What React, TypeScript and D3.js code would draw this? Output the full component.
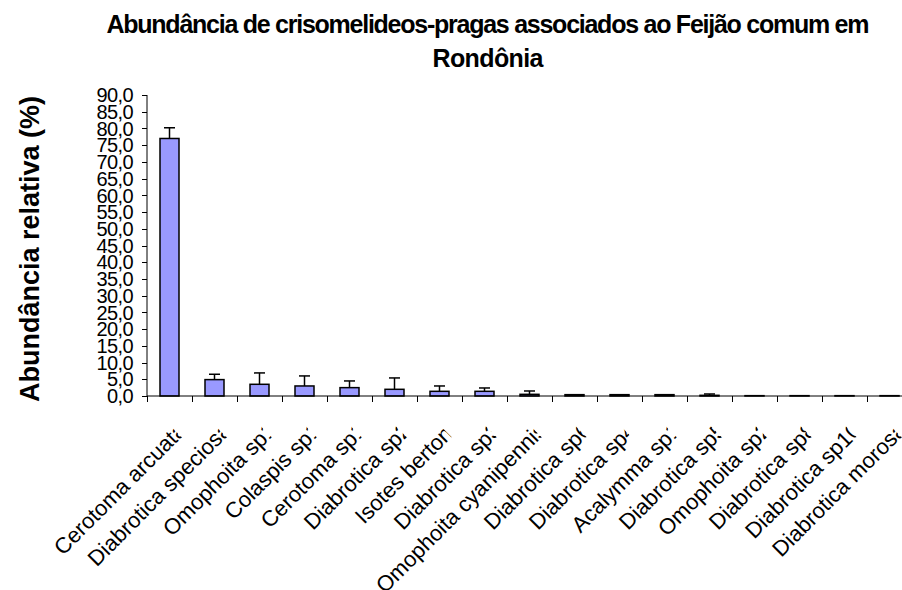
import React from "react";
import * as d3 from "d3";

// species (x categories)
const species = [
  "Cerotoma arcuata",
  "Diabrotica speciosa",
  "Omophoita sp1",
  "Colaspis sp1",
  "Cerotoma sp1",
  "Diabrotica sp2",
  "Isotes bertoni",
  "Diabrotica sp3",
  "Omophoita cyanipennis",
  "Diabrotica sp6",
  "Diabrotica sp4",
  "Acalymma sp1",
  "Diabrotica sp5",
  "Omophoita sp2",
  "Diabrotica sp8",
  "Diabrotica sp10",
  "Diabrotica morosa",
];

// relative abundance (%) and upper error
const abundance = [77.0, 4.9, 3.5, 3.0, 2.5, 2.0, 1.4, 1.4, 0.5, 0.4, 0.4, 0.4, 0.2, 0.1, 0.1, 0.1, 0.1];
const errorUp = [3.2, 1.6, 3.4, 3.0, 2.0, 3.4, 1.6, 1.0, 1.0, 0, 0, 0, 0.4, 0, 0, 0, 0];

const yTicks = d3.range(0, 90.01, 5);

const titleLines = ["Abundância de crisomelideos-pragas associados ao Feijão comum em", "Rondônia"];
const yTitle = "Abundância relativa (%)";

const W = 902;
const H = 590;
const FONT = "'Liberation Sans', Arial, sans-serif";

export default function App() {
  const left = 147;
  const step = 45;
  const x = d3
    .scaleBand<string>()
    .domain(species)
    .range([left, left + step * species.length])
    .padding(0);
  const y = d3.scaleLinear().domain([0, 90]).range([396, 95]);
  const barW = 19;
  const fmt = (v: number) => v.toFixed(1).replace(".", ",");

  const tickXs = species.map((s) => x(s) as number);

  return (
    <svg
      width={W}
      height={H}
      style={{ position: "absolute", left: 0, top: 0, background: "#fff" }}
      fontFamily={FONT}
    >
      <defs>
        <clipPath id="labelClip">
          <rect x={-600} y={-60} width={600} height={120} />
        </clipPath>
      </defs>

      {/* title */}
      <text x={488} y={33} textAnchor="middle" fontWeight="bold" fontSize={25} textLength={763} lengthAdjust="spacing">
        {titleLines[0]}
      </text>
      <text x={488} y={67} textAnchor="middle" fontWeight="bold" fontSize={25} textLength={111} lengthAdjust="spacing">
        {titleLines[1]}
      </text>

      {/* y title */}
      <text
        transform="translate(39,249) rotate(-90)"
        textAnchor="middle"
        fontWeight="bold"
        fontSize={27}
      >
        {yTitle}
      </text>

      {/* y axis */}
      <line x1={left} x2={left} y1={y(90)} y2={y(0)} stroke="#000" />
      {yTicks.map((t) => (
        <g key={t}>
          <line x1={left - 5} x2={left} y1={Math.round(y(t)) + 0.5} y2={Math.round(y(t)) + 0.5} stroke="#000" />
          <text x={133} y={y(t)} dy="0.36em" textAnchor="end" fontSize={20} letterSpacing={-0.6}>
            {fmt(t)}
          </text>
        </g>
      ))}

      {/* bars */}
      {species.map((s, i) => {
        const cx = (x(s) as number) + x.bandwidth() / 2;
        return (
          <g key={s}>
            <rect
              x={cx - barW / 2}
              y={y(abundance[i])}
              width={barW}
              height={y(0) - y(abundance[i])}
              fill="#9999FF"
              stroke="#000"
              strokeWidth={1.5}
            />
            {errorUp[i] > 0 && (
              <g stroke="#000" strokeWidth={1.5}>
                <line x1={cx} x2={cx} y1={y(abundance[i])} y2={y(abundance[i] + errorUp[i])} />
                <line x1={cx - 5.5} x2={cx + 5.5} y1={y(abundance[i] + errorUp[i])} y2={y(abundance[i] + errorUp[i])} />
              </g>
            )}
          </g>
        );
      })}

      {/* x axis */}
      <line x1={left} x2={W} y1={396} y2={396} stroke="#000" />
      {tickXs.map((tx, i) => (
        <line key={i} x1={Math.round(tx) + 0.5} x2={Math.round(tx) + 0.5} y1={396} y2={402} stroke="#000" />
      ))}
      {species.map((s) => {
        const cx = (x(s) as number) + x.bandwidth() / 2;
        return (
          <g key={s} transform={`translate(${cx + 1},426) rotate(-45)`}>
            <text x={8} y={16} textAnchor="end" fontSize={22} clipPath="url(#labelClip)">
              {s}
            </text>
          </g>
        );
      })}
    </svg>
  );
}
